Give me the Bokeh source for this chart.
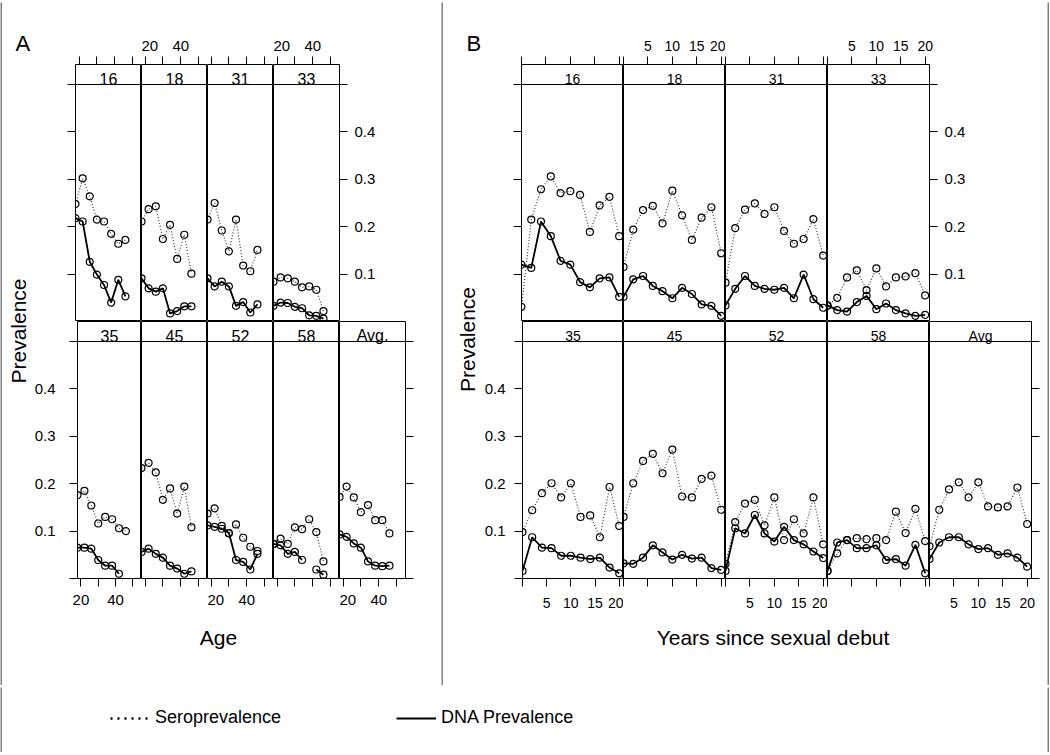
import math
import numpy as np
from bokeh.plotting import figure
from bokeh.layouts import row, column
from bokeh.models import (Range1d, LinearAxis, FixedTicker, Span, Label, Legend,
                          LegendItem, ColumnDataSource)
from bokeh.embed import file_html
from bokeh.resources import INLINE

NAN = float("nan")
FONT = "Liberation Sans"
GRAY = "#808080"

# ---------------- Panel A: prevalence by age ----------------
AGE = [18, 22, 26, 30, 34, 38, 42, 46]
AGE_TICKS = [20, 30, 40, 50]
AGE_LABELS = [20, 40]
A_TOP = ["16", "18", "31", "33"]
A_BOTTOM = ["35", "45", "52", "58", "Avg."]

A_SERO_16 = [0.248, 0.302, 0.264, 0.215, 0.211, 0.185, 0.164, 0.172]
A_SERO_18 = [0.211, 0.237, 0.243, 0.174, 0.204, 0.132, 0.183, 0.101]
A_SERO_31 = [0.215, 0.250, 0.192, 0.148, 0.215, 0.118, 0.106, 0.151]
A_SERO_33 = [0.084, 0.093, 0.091, 0.084, 0.072, 0.074, 0.067, 0.022]
A_SERO_35 = [0.176, 0.185, 0.154, 0.116, 0.130, 0.125, 0.106, 0.100]
A_SERO_45 = [0.233, 0.244, 0.224, 0.166, 0.190, 0.137, 0.194, 0.108]
A_SERO_52 = [0.137, 0.148, 0.111, 0.095, 0.114, 0.086, 0.067, 0.058]
A_SERO_58 = [0.073, 0.084, 0.073, 0.108, 0.104, 0.125, 0.098, 0.036]
A_SERO_AVG = [0.172, 0.194, 0.171, 0.140, 0.155, 0.123, 0.123, 0.095]

A_DNA_16 = [0.218, 0.211, 0.126, 0.099, 0.077, 0.040, 0.088, 0.053]
A_DNA_18 = [0.091, 0.070, 0.063, 0.070, 0.017, 0.022, 0.032, 0.032]
A_DNA_31 = [0.091, 0.074, 0.084, 0.074, 0.033, 0.041, 0.019, 0.036]
A_DNA_33 = [0.033, 0.040, 0.039, 0.031, 0.028, 0.013, 0.012, 0.006]
A_DNA_35 = [0.065, 0.065, 0.063, 0.039, 0.027, 0.027, 0.010, NAN]
A_DNA_45 = [0.056, 0.063, 0.052, 0.044, 0.027, 0.021, 0.010, 0.015]
A_DNA_52 = [0.112, 0.109, 0.105, 0.096, 0.039, 0.035, 0.019, 0.052]
A_DNA_58 = [0.073, 0.070, 0.052, 0.056, 0.039, NAN, 0.019, 0.008]
A_DNA_AVG = [0.093, 0.088, 0.074, 0.065, 0.036, 0.027, 0.026, 0.027]

# ---------------- Panel B: prevalence by years since sexual debut ----------------
YRS = [0, 2, 4, 6, 8, 10, 12, 14, 16, 18, 20]
YRS_TICKS = [0, 5, 10, 15, 20]
YRS_LABELS = [5, 10, 15, 20]
B_TOP = ["16", "18", "31", "33"]
B_BOTTOM = ["35", "45", "52", "58", "Avg"]

B_SERO_16 = [0.031, 0.215, 0.279, 0.306, 0.271, 0.275, 0.267, 0.189, 0.245, 0.263, 0.180]
B_SERO_18 = [0.115, 0.194, 0.235, 0.244, 0.207, 0.276, 0.224, 0.172, 0.219, 0.241, 0.144]
B_SERO_31 = [0.082, 0.197, 0.236, 0.249, 0.227, 0.241, 0.191, 0.164, 0.174, 0.216, 0.139]
B_SERO_33 = [0.033, 0.050, 0.093, 0.108, 0.066, 0.112, 0.074, 0.093, 0.095, 0.102, 0.055]
B_SERO_35 = [0.098, 0.144, 0.180, 0.201, 0.171, 0.201, 0.130, 0.133, 0.087, 0.193, 0.111]
B_SERO_45 = [0.130, 0.201, 0.248, 0.263, 0.222, 0.272, 0.173, 0.171, 0.210, 0.217, 0.145]
B_SERO_52 = [0.031, 0.119, 0.158, 0.166, 0.112, 0.171, 0.081, 0.125, 0.095, 0.171, 0.072]
B_SERO_58 = [0.016, 0.053, 0.081, 0.085, 0.083, 0.085, 0.081, 0.141, 0.096, 0.147, 0.079]
B_SERO_AVG = [0.068, 0.145, 0.188, 0.203, 0.171, 0.203, 0.152, 0.150, 0.152, 0.192, 0.115]

B_DNA_16 = [0.120, 0.113, 0.211, 0.180, 0.128, 0.120, 0.083, 0.072, 0.091, 0.093, 0.052]
B_DNA_18 = [0.052, 0.089, 0.096, 0.075, 0.064, 0.049, 0.071, 0.058, 0.036, 0.033, 0.012]
B_DNA_31 = [0.034, 0.069, 0.096, 0.075, 0.069, 0.067, 0.071, 0.049, 0.099, 0.047, 0.029]
B_DNA_33 = [0.034, 0.024, 0.021, 0.041, 0.054, 0.026, 0.038, 0.024, 0.017, 0.012, 0.014]
B_DNA_35 = [0.016, 0.087, 0.065, 0.064, 0.048, 0.048, 0.044, 0.041, 0.044, 0.023, 0.011]
B_DNA_45 = [0.032, 0.031, 0.044, 0.070, 0.055, 0.040, 0.050, 0.042, 0.044, 0.022, 0.018]
B_DNA_52 = [0.016, 0.106, 0.095, 0.134, 0.095, 0.078, 0.109, 0.081, 0.072, 0.057, 0.043]
B_DNA_58 = [0.016, 0.076, 0.081, 0.064, 0.064, 0.070, 0.039, 0.041, 0.027, 0.071, 0.011]
B_DNA_AVG = [0.041, 0.076, 0.087, 0.087, 0.072, 0.062, 0.064, 0.050, 0.053, 0.044, 0.025]

PREV_TICKS = [0.0, 0.1, 0.2, 0.3, 0.4, 0.5]
PREV_LABELS = [0.1, 0.2, 0.3, 0.4]

A_SERO = dict(zip(A_TOP + A_BOTTOM, [A_SERO_16, A_SERO_18, A_SERO_31, A_SERO_33, A_SERO_35,
                                     A_SERO_45, A_SERO_52, A_SERO_58, A_SERO_AVG]))
A_DNA = dict(zip(A_TOP + A_BOTTOM, [A_DNA_16, A_DNA_18, A_DNA_31, A_DNA_33, A_DNA_35,
                                    A_DNA_45, A_DNA_52, A_DNA_58, A_DNA_AVG]))
B_SERO = dict(zip(B_TOP + B_BOTTOM, [B_SERO_16, B_SERO_18, B_SERO_31, B_SERO_33, B_SERO_35,
                                     B_SERO_45, B_SERO_52, B_SERO_58, B_SERO_AVG]))
B_DNA = dict(zip(B_TOP + B_BOTTOM, [B_DNA_16, B_DNA_18, B_DNA_31, B_DNA_33, B_DNA_35,
                                    B_DNA_45, B_DNA_52, B_DNA_58, B_DNA_AVG]))

# ---------------- geometry ----------------
STRIP_H = 20
PANEL_H = 237
FRAME_H = STRIP_H + PANEL_H
Y_TOP = 0.5 * FRAME_H / PANEL_H
BLOCK_H = 683
TOP_B = 62
BOT_B = 40


def make_ticker(all_ticks, labelled):
    return FixedTicker(ticks=list(labelled),
                       minor_ticks=[t for t in all_ticks if t not in labelled])


def add_axis(p, side, all_ticks, labelled, font_size, standoff):
    ax = LinearAxis(ticker=make_ticker(all_ticks, labelled))
    ax.axis_line_color = None
    ax.major_tick_in = 0
    ax.major_tick_out = 8
    ax.minor_tick_in = 0
    ax.minor_tick_out = 8
    ax.major_tick_line_color = "black"
    ax.minor_tick_line_color = "black"
    ax.major_tick_line_width = 1
    ax.minor_tick_line_width = 1
    ax.major_label_standoff = standoff
    ax.major_label_text_font = FONT
    ax.major_label_text_font_size = font_size
    ax.major_label_text_color = "black"
    p.add_layout(ax, side)


def make_panel(name, xs, sero, dna, x_lo, x_hi, frame_w, left, right, top, bottom, strip_font):
    p = figure(width=left + frame_w + right, height=top + FRAME_H + bottom,
               x_range=Range1d(x_lo, x_hi), y_range=Range1d(0, Y_TOP),
               toolbar_location=None, output_backend="svg", title=None,
               x_axis_location=None, y_axis_location=None,
               min_border_left=left, min_border_right=right,
               min_border_top=top, min_border_bottom=bottom,
               outline_line_color="black", outline_line_width=1.0,
               background_fill_color="white", border_fill_color="white")
    p.grid.visible = False
    src = ColumnDataSource(dict(x=np.asarray(xs, dtype=float),
                                sero=np.asarray(sero, dtype=float),
                                dna=np.asarray(dna, dtype=float)))
    p.line("x", "sero", source=src, line_color="#3a3a3a", line_width=1.2, line_dash="1 2")
    p.line("x", "dna", source=src, line_color="black", line_width=1.8)
    for col in ("sero", "dna"):
        p.scatter("x", col, source=src, marker="circle", size=7, fill_color=None,
                  line_color="black", line_width=1.2)
    p.add_layout(Span(location=0.5, dimension="width", line_color="black", line_width=1.0))
    p.add_layout(Label(x=(x_lo + x_hi) / 2, y=(0.5 + Y_TOP) / 2, text=name,
                       text_align="center", text_baseline="middle", y_offset=-4,
                       text_font=FONT, text_font_size=strip_font, text_color="black"))
    return p


def blank(w, h, fill="white"):
    f = figure(width=w, height=h, toolbar_location=None, output_backend="svg", title=None,
               x_axis_location=None, y_axis_location=None, min_border=0,
               outline_line_color=None, x_range=Range1d(0, 1), y_range=Range1d(0, 1),
               background_fill_color=fill, border_fill_color=fill)
    f.grid.visible = False
    return f


def screen_label(f, x, y, text, size, angle=0.0, align="center", baseline="middle"):
    f.add_layout(Label(x=x, y=y, x_units="screen", y_units="screen", text=text,
                       angle=angle, text_align=align, text_baseline=baseline,
                       text_font=FONT, text_font_size=size, text_color="black"))


def build_block(top_names, bottom_names, xs, sero, dna, x_lo, x_hi, fw, gutter_w, inner_w,
                left_b, cfg, letter, letter_x, prev_x, prev_y, xlabel, xlabel_x):
    row1 = []
    n = len(top_names)
    for i, name in enumerate(top_names):
        left = left_b if i == 0 else 0
        right = inner_w - left_b - fw * n if i == n - 1 else 0
        p = make_panel(name, xs, sero[name], dna[name], x_lo, x_hi, fw, left, right, TOP_B, 0,
                       cfg["strip"])
        add_axis(p, "above", cfg["xticks"], cfg["xlabels"] if i % 2 == 1 else [],
                 cfg["xfont"], cfg["above_standoff"])
        if i == 0:
            add_axis(p, "left", PREV_TICKS, [], cfg["yfont"], cfg["left_standoff"])
        if i == n - 1:
            add_axis(p, "right", PREV_TICKS, PREV_LABELS, cfg["yfont"], cfg["right_standoff"])
        row1.append(p)
    row2 = []
    m = len(bottom_names)
    for i, name in enumerate(bottom_names):
        left = left_b if i == 0 else 0
        right = inner_w - left_b - fw * m if i == m - 1 else 0
        p = make_panel(name, xs, sero[name], dna[name], x_lo, x_hi, fw, left, right, 0, BOT_B,
                       cfg["strip"])
        add_axis(p, "below", cfg["xticks"], cfg["xlabels"] if i % 2 == 0 else [],
                 cfg["xfont"], cfg["below_standoff"])
        if i == 0:
            add_axis(p, "left", PREV_TICKS, PREV_LABELS, cfg["yfont"], cfg["left_standoff"])
        if i == m - 1:
            add_axis(p, "right", PREV_TICKS, [], cfg["yfont"], cfg["right_standoff"])
        row2.append(p)
    footer_h = BLOCK_H - (TOP_B + FRAME_H) - (FRAME_H + BOT_B)
    footer = blank(inner_w, footer_h)
    screen_label(footer, xlabel_x, footer_h - 19, xlabel, "21px")
    gutter = blank(gutter_w, BLOCK_H)
    screen_label(gutter, letter_x, BLOCK_H - 41, letter, "22px", align="left",
                 baseline="alphabetic")
    screen_label(gutter, prev_x, prev_y, "Prevalence", "21px", angle=math.pi / 2)
    inner = column(row(*row1), row(*row2), footer)
    return row(gutter, inner)


CFG_A = dict(strip="16px", xticks=AGE_TICKS, xlabels=AGE_LABELS, xfont="15px", yfont="15px",
             above_standoff=6, below_standoff=8, left_standoff=14, right_standoff=7)
CFG_B = dict(strip="14px", xticks=YRS_TICKS, xlabels=YRS_LABELS, xfont="14px", yfont="15px",
             above_standoff=6, below_standoff=11, left_standoff=9, right_standoff=7)

# block A: x 2..441 ; block B: x 443..1047 ; both y 2..685
block_a = build_block(A_TOP, A_BOTTOM, AGE, A_SERO, A_DNA, 18, 55, 66, 29, 410,
                      44, CFG_A, "A", 13, 15.5, BLOCK_H - 328.5, "Age", 187)
block_b = build_block(B_TOP, B_BOTTOM, YRS, B_SERO, B_DNA, 0, 20.88, 102, 38, 566,
                      40, CFG_B, "B", 23, 23.5, BLOCK_H - 337, "Years since sexual debut", 291.5)

# legend strip (y 687..752)
LEG_H = 65
leg = blank(1045, LEG_H)
r_sero = leg.line(x=[NAN], y=[NAN], line_color="black", line_width=2.5, line_dash="2 5")
r_dna = leg.line(x=[NAN], y=[NAN], line_color="black", line_width=2)
legend = Legend(items=[LegendItem(label="Seroprevalence", renderers=[r_sero]),
                       LegendItem(label="DNA Prevalence", renderers=[r_dna])],
                location=(108, 24), orientation="horizontal", glyph_width=40,
                glyph_height=20, label_height=20, label_standoff=5, spacing=115,
                padding=0, margin=0, border_line_color=None, background_fill_alpha=0,
                label_text_font=FONT, label_text_font_size="18px",
                label_text_color="black")
leg.add_layout(legend)

main = row(blank(2, BLOCK_H, GRAY), block_a, blank(2, BLOCK_H, GRAY), block_b,
           blank(2, BLOCK_H, GRAY))
leg_row = row(blank(2, LEG_H, GRAY), leg, blank(2, LEG_H, GRAY))
root = column(blank(1049, 2, GRAY), main, blank(1049, 2, GRAY), leg_row, blank(1049, 2, GRAY))

open("out.html", "w").write(file_html(root, INLINE))
